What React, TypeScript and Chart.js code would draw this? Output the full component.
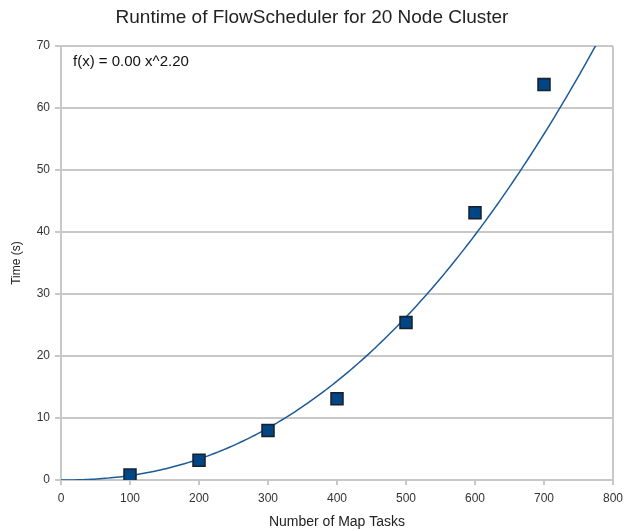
import React, { useEffect, useRef } from "react";
import { Chart, registerables } from "chart.js";

Chart.register(...registerables);

const chartTitle = "Runtime of FlowScheduler for 20 Node Cluster";
const xAxisTitle = "Number of Map Tasks";
const yAxisTitle = "Time (s)";
const fitLabel = "f(x) = 0.00 x^2.20";

const mapTasks = [100, 200, 300, 400, 500, 600, 700];
const runtimes = [0.8, 3.2, 8.0, 13.1, 25.4, 43.1, 63.8];

const xMin = 0;
const xMax = 800;
const xStep = 100;
const yMin = 0;
const yMax = 70;
const yStep = 10;

// power trend line (log-log least squares) derived from the data
function powerFit(xs: number[], ys: number[]) {
  const lx = xs.map(Math.log);
  const ly = ys.map(Math.log);
  const n = xs.length;
  const mx = lx.reduce((a, b) => a + b, 0) / n;
  const my = ly.reduce((a, b) => a + b, 0) / n;
  let sxy = 0;
  let sxx = 0;
  for (let i = 0; i < n; i++) {
    sxy += (lx[i] - mx) * (ly[i] - my);
    sxx += (lx[i] - mx) * (lx[i] - mx);
  }
  const b = sxy / sxx;
  const a = Math.exp(my - b * mx);
  return { a, b };
}

export default function App() {
  const ref = useRef<HTMLCanvasElement>(null);

  useEffect(() => {
    document.body.style.margin = "0";
    const { a, b } = powerFit(mapTasks, runtimes);
    const trend: { x: number; y: number }[] = [];
    for (let x = xMin; x <= xMax; x += 4) {
      trend.push({ x, y: a * Math.pow(x, b) });
    }

    const font = "'Liberation Sans', Arial, sans-serif";

    const fitText = {
      id: "fitText",
      afterDraw(chart: any) {
        const { ctx, chartArea } = chart;
        ctx.save();
        ctx.font = "15px " + font;
        ctx.fillStyle = "#111";
        ctx.textBaseline = "middle";
        ctx.textAlign = "left";
        ctx.fillText(fitLabel, chartArea.left + 12, chartArea.top + 16);
        ctx.restore();
      },
    };
    const frame = {
      id: "frame",
      beforeDatasetsDraw(chart: any) {
        const { ctx, chartArea } = chart;
        ctx.save();
        ctx.strokeStyle = "#c8c8c8";
        ctx.lineWidth = 2;
        ctx.beginPath();
        ctx.moveTo(chartArea.right, chartArea.top);
        ctx.lineTo(chartArea.right, chartArea.bottom);
        ctx.stroke();
        ctx.restore();
      },
    };

    const chart = new Chart(ref.current!, {
      type: "scatter",
      data: {
        datasets: [
          {
            label: "Runtime",
            data: mapTasks.map((x, i) => ({ x, y: runtimes[i] })),
            pointStyle: "rect",
            pointRadius: 8.5,
            pointHoverRadius: 8.5,
            backgroundColor: "#004586",
            borderColor: "#1b1f26",
            borderWidth: 1.5,
            order: 0,
          },
          {
            type: "line",
            label: "Trend",
            data: trend,
            showLine: true,
            pointRadius: 0,
            borderColor: "#1d5b98",
            borderWidth: 1.5,
            tension: 0,
            fill: false,
            order: 1,
          } as any,
        ],
      },
      options: {
        animation: false,
        responsive: false,
        maintainAspectRatio: false,
        layout: { padding: { left: 0, right: 0, top: 0, bottom: 0 } },
        plugins: {
          legend: { display: false },
          tooltip: { enabled: false },
          title: {
            display: true,
            text: chartTitle,
            color: "#222",
            font: { family: font, size: 19, weight: "normal" },
            padding: { top: 6, bottom: 17.2 },
          },
        },
        scales: {
          x: {
            type: "linear",
            min: xMin,
            max: xMax,
            afterFit: (s: any) => {
              s.height = 51;
              s.paddingRight = 11;
            },
            ticks: {
              stepSize: xStep,
              color: "#333",
              font: { family: font, size: 12 },
              padding: 6,
              maxRotation: 0,
            },
            grid: {
              drawOnChartArea: false,
              drawTicks: true,
              tickLength: 5,
              color: "#c8c8c8",
              lineWidth: 2,
            },
            border: { display: true, color: "#c8c8c8", width: 2 },
            title: {
              display: true,
              text: xAxisTitle,
              color: "#222",
              font: { family: font, size: 14 },
              padding: { top: 0, bottom: 0 },
            },
          },
          y: {
            type: "linear",
            min: yMin,
            max: yMax,
            afterFit: (s: any) => {
              s.width = 61;
            },
            ticks: {
              stepSize: yStep,
              color: "#333",
              font: { family: font, size: 12 },
              padding: 5,
            },
            grid: {
              drawOnChartArea: true,
              drawTicks: true,
              tickLength: 6,
              color: "#c8c8c8",
              lineWidth: 2,
            },
            border: { display: true, color: "#c8c8c8", width: 2 },
            title: {
              display: true,
              text: yAxisTitle,
              color: "#222",
              font: { family: font, size: 12 },
              padding: { top: 9, bottom: 0 },
            },
          },
        },
      },
      plugins: [frame, fitText],
    });
    return () => chart.destroy();
  }, []);

  return (
    <div style={{ width: 624, height: 531, background: "#fff" }}>
      <canvas ref={ref} width={624} height={531} style={{ display: "block" }} />
    </div>
  );
}
